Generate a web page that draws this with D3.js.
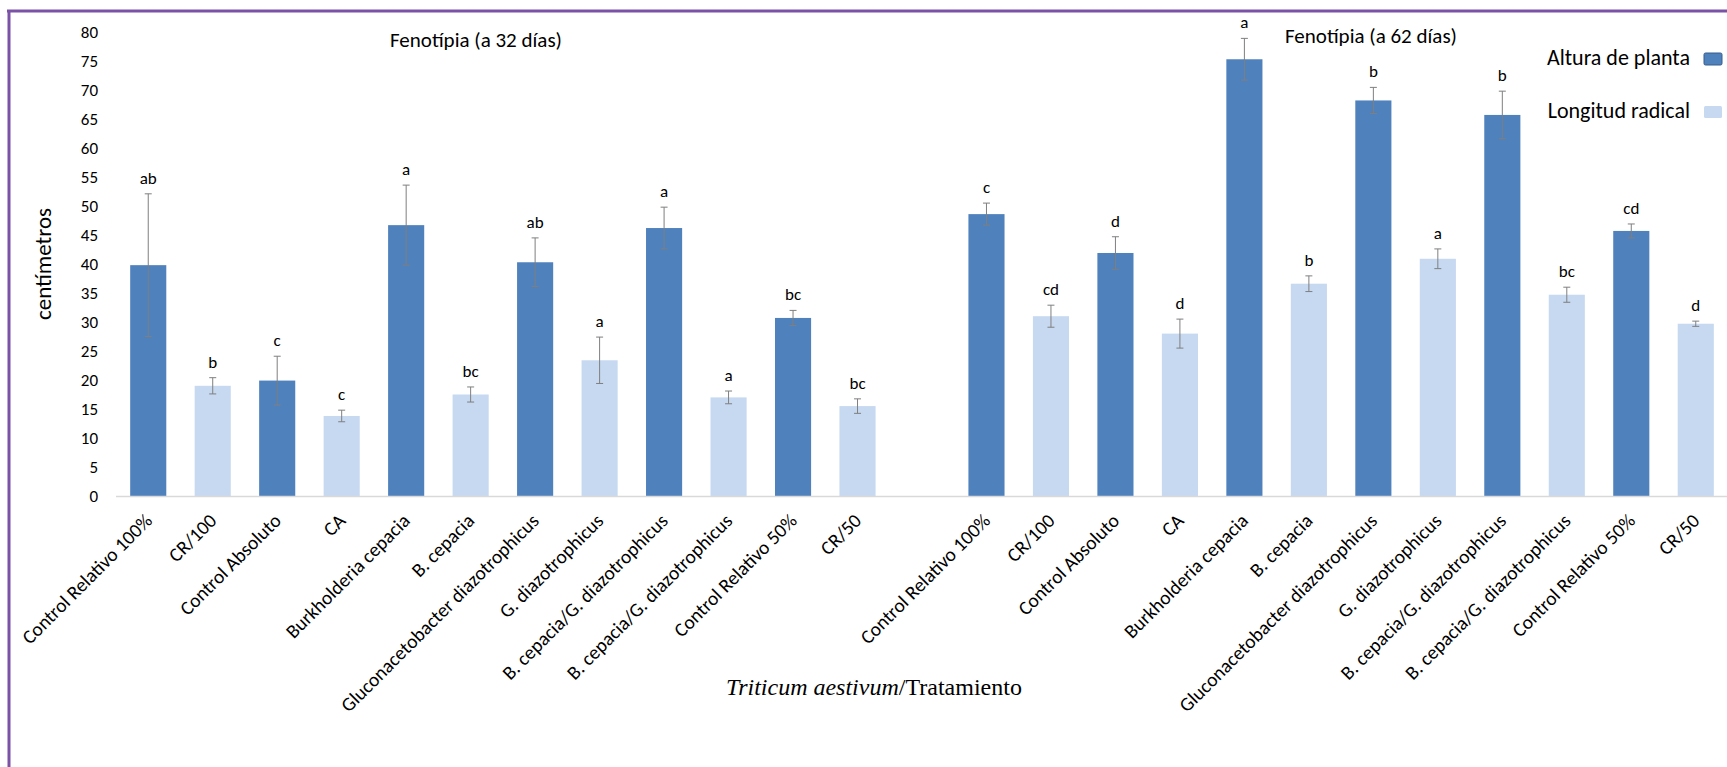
<!DOCTYPE html>
<html>
<head>
<meta charset="utf-8">
<script src="https://cdn.jsdelivr.net/npm/d3@7"></script>
<style>
  body { margin: 0; background: #fff; }
  svg { display: block; }
</style>
</head>
<body>
<div id="chart"></div>
<script>
// treatments (same order in both harvests), bars alternate between the two series
let categories = ["Control Relativo 100%", "CR/100", "Control Absoluto", "CA",
  "Burkholderia cepacia", "B. cepacia", "Gluconacetobacter diazotrophicus", "G. diazotrophicus",
  "B. cepacia/G. diazotrophicus", "B. cepacia/G. diazotrophicus", "Control Relativo 50%", "CR/50"]
let seriesNames = ["Altura de planta", "Longitud radical"]
let barSeries = [0, 1, 0, 1, 0, 1, 0, 1, 0, 1, 0, 1]

// 32 days
let values32 = [39.8, 19.0, 19.9, 13.8, 46.7, 17.5, 40.3, 23.4, 46.2, 17.0, 30.7, 15.5]
let errors32 = [12.3, 1.4, 4.2, 1.0, 6.9, 1.3, 4.2, 4.0, 3.6, 1.1, 1.3, 1.25]
let letters32 = ["ab", "b", "c", "c", "a", "bc", "ab", "a", "a", "a", "bc", "bc"]

// 62 days
let values62 = [48.6, 31.0, 41.9, 28.0, 75.3, 36.6, 68.2, 40.9, 65.7, 34.7, 45.7, 29.7]
let errors62 = [1.9, 1.9, 2.8, 2.5, 3.6, 1.35, 2.25, 1.7, 4.1, 1.3, 1.2, 0.45]
let letters62 = ["c", "cd", "d", "d", "a", "b", "b", "a", "b", "bc", "cd", "d"]

let groupTitles = ["Fenotípia (a 32 días)", "Fenotípia (a 62 días)"]
let yTicks = d3.range(0, 81, 5)

let colors = ["#4f81bd", "#c6d9f1"]
let font = "Carlito, Calibri, Lato, sans-serif"

let width = 1727, height = 767

// build one row per bar; the second harvest starts after one empty slot
let rows = []
categories.forEach(function (c, i) {
  rows.push({slot: i, name: c, s: barSeries[i], v: values32[i], e: errors32[i], l: letters32[i]})
})
categories.forEach(function (c, i) {
  rows.push({slot: i + 13, name: c, s: barSeries[i], v: values62[i], e: errors62[i], l: letters62[i]})
})

let svg = d3.select("#chart").append("svg")
  .attr("width", width)
  .attr("height", height)

let x = d3.scaleBand()
  .domain(d3.range(25))
  .range([116, 1728])
  .paddingInner(0.44)
  .paddingOuter(0.22)

let y = d3.scaleLinear()
  .domain([0, 80])
  .range([496, 32])

// frame
svg.append("line")
  .attr("x1", 7).attr("x2", width)
  .attr("y1", 11).attr("y2", 11)
  .style("stroke", "#7a52a6")
  .style("stroke-width", 3)
svg.append("line")
  .attr("x1", 9).attr("x2", 9)
  .attr("y1", 10).attr("y2", height)
  .style("stroke", "#7a52a6")
  .style("stroke-width", 3)

// y axis labels only, no line
let yAxis = d3.axisLeft(y).tickValues(yTicks).tickSize(0).tickPadding(0)
let gy = svg.append("g")
  .attr("transform", "translate(98,0)")
  .call(yAxis)
gy.select(".domain").remove()
gy.selectAll("text")
  .style("font-family", font)
  .style("font-size", "17px")
  .style("fill", "#000")

svg.append("text")
  .attr("transform", "translate(51,264) rotate(-90)")
  .attr("text-anchor", "middle")
  .style("font-family", font)
  .style("font-size", "23px")
  .text("centímetros")

// bars
svg.selectAll("rect.bar")
  .data(rows)
  .enter()
  .append("rect")
  .attr("class", "bar")
  .attr("x", d => x(d.slot))
  .attr("width", x.bandwidth())
  .attr("y", d => y(d.v))
  .attr("height", d => y(0) - y(d.v))
  .style("fill", d => colors[d.s])

// category axis line
svg.append("line")
  .attr("x1", x.range()[0]).attr("x2", x.range()[1])
  .attr("y1", y(0) + 0.5).attr("y2", y(0) + 0.5)
  .style("stroke", "#d9d9d9")
  .style("stroke-width", 1.5)

// error bars
let err = svg.selectAll("g.err")
  .data(rows)
  .enter()
  .append("g")
  .attr("class", "err")
  .style("stroke", "#7f7f7f")
  .style("stroke-width", 1)
err.append("line")
  .attr("x1", d => x(d.slot) + x.bandwidth() / 2)
  .attr("x2", d => x(d.slot) + x.bandwidth() / 2)
  .attr("y1", d => y(d.v + d.e))
  .attr("y2", d => y(d.v - d.e))
err.selectAll("line.cap")
  .data(d => [d.v + d.e, d.v - d.e].map(v => ({slot: d.slot, v: v})))
  .enter()
  .append("line")
  .attr("class", "cap")
  .attr("x1", d => x(d.slot) + x.bandwidth() / 2 - 3.5)
  .attr("x2", d => x(d.slot) + x.bandwidth() / 2 + 3.5)
  .attr("y1", d => y(d.v))
  .attr("y2", d => y(d.v))

// significance letters
svg.selectAll("text.letter")
  .data(rows)
  .enter()
  .append("text")
  .attr("class", "letter")
  .attr("x", d => x(d.slot) + x.bandwidth() / 2)
  .attr("y", d => y(d.v + d.e) - 10)
  .attr("text-anchor", "middle")
  .style("font-family", font)
  .style("font-size", "17px")
  .text(d => d.l)

// rotated category labels
svg.selectAll("text.cat")
  .data(rows)
  .enter()
  .append("text")
  .attr("class", "cat")
  .attr("transform", d => "translate(" + (x(d.slot) + x.bandwidth() / 2 + 5) + ",522) rotate(-45)")
  .attr("text-anchor", "end")
  .style("font-family", font)
  .style("font-size", "19.5px")
  .text(d => d.name)

// harvest titles
svg.selectAll("text.gtitle")
  .data(groupTitles)
  .enter()
  .append("text")
  .attr("class", "gtitle")
  .attr("x", (d, i) => i == 0 ? 476 : 1371)
  .attr("y", (d, i) => i == 0 ? 47 : 43)
  .attr("text-anchor", "middle")
  .style("font-family", font)
  .style("font-size", "21px")
  .text(d => d)

// legend
let leg = svg.selectAll("g.leg")
  .data(seriesNames)
  .enter()
  .append("g")
  .attr("class", "leg")
  .attr("transform", (d, i) => "translate(0," + (65 + i * 53) + ")")
leg.append("text")
  .attr("x", 1690)
  .attr("y", 0)
  .attr("text-anchor", "end")
  .style("font-family", font)
  .style("font-size", "22px")
  .text(d => d)
leg.append("rect")
  .attr("x", 1704)
  .attr("y", -12)
  .attr("width", 18)
  .attr("height", 12)
  .attr("rx", 1.5)
  .style("fill", (d, i) => colors[i])
  .style("stroke", (d, i) => i == 0 ? "#385d8a" : "none")
  .style("stroke-width", 1)

// x axis title
let xt = svg.append("text")
  .attr("x", 874)
  .attr("y", 695)
  .attr("text-anchor", "middle")
  .style("font-family", "'Liberation Serif', 'Times New Roman', serif")
  .style("font-size", "24px")
xt.append("tspan").style("font-style", "italic").text("Triticum aestivum")
xt.append("tspan").text("/Tratamiento")
</script>
</body>
</html>
